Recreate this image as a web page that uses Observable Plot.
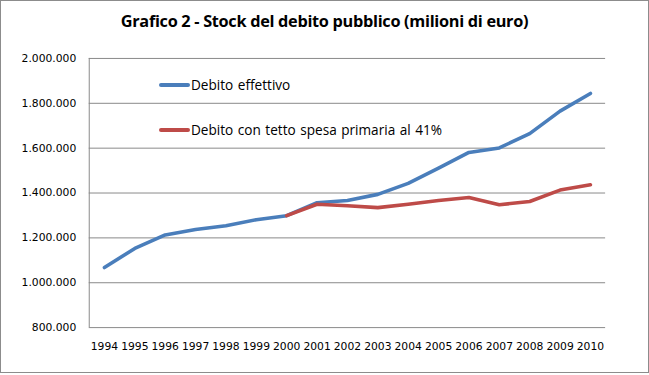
<!DOCTYPE html>
<html>
<head>
<meta charset="utf-8">
<script src="https://cdn.jsdelivr.net/npm/d3@7"></script>
<script src="https://cdn.jsdelivr.net/npm/@observablehq/plot@0.6"></script>
<style>
  html, body { margin: 0; padding: 0; background: #fff; }
  #wrap { position: relative; width: 647px; height: 371px; border: 1px solid #8c8c8c; background: #fff; overflow: hidden; }
  #title { position: absolute; left: 0; top: 9px; width: 647px; text-align: center; font-family: "Open Sans", sans-serif; font-weight: bold; font-size: 16.3px; color: #000; letter-spacing: -0.3px; }
  #chart { position: absolute; left: 0; top: 40px; }
  .leg { position: absolute; font-family: "Open Sans", sans-serif; font-size: 13.6px; color: #000; display: flex; align-items: center; letter-spacing: 0px; word-spacing: 1px; }
  .leg span.sw { display: inline-block; width: 31px; height: 4px; border-radius: 2px; margin-right: 1px; }
</style>
</head>
<body>
<div id="wrap">
  <div id="title">Grafico 2 - Stock del debito pubblico (milioni di euro)</div>
  <div id="chart"></div>
  <div id="legend"></div>
</div>
<script>
const years = [1994,1995,1996,1997,1998,1999,2000,2001,2002,2003,2004,2005,2006,2007,2008,2009,2010];
const debitoEffettivo = [1068000,1153000,1213000,1237000,1254000,1281000,1299000,1357000,1367000,1394000,1443000,1511000,1581000,1601000,1665000,1765000,1844000];
const debitoTetto = [null,null,null,null,null,null,1299000,1350000,1343000,1335000,1350000,1367000,1380000,1348000,1362000,1413000,1437000];
const seriesNames = ["Debito effettivo", "Debito con tetto spesa primaria al 41%"];
const seriesColors = ["#4a7ebb", "#be4b48"];
const yTicks = [800000,1000000,1200000,1400000,1600000,1800000,2000000];

const rows = [];
years.forEach((yr, i) => {
  rows.push({year: String(yr), value: debitoEffettivo[i], series: seriesNames[0]});
  if (debitoTetto[i] != null) rows.push({year: String(yr), value: debitoTetto[i], series: seriesNames[1]});
});

const it = d3.formatLocale({decimal: ",", thousands: ".", grouping: [3], currency: ["", " €"]});
const fmt = it.format(",.0f");

const chart = Plot.plot({
  width: 649,
  height: 335,
  marginTop: 17,
  marginBottom: 48,
  marginLeft: 88,
  marginRight: 43,
  style: {fontFamily: "'DejaVu Sans', sans-serif", fontSize: "10.8px", color: "#000", background: "transparent"},
  x: {type: "point", domain: years.map(String), padding: 0.5, round: false, label: null},
  y: {domain: [800000, 2000000], label: null},
  color: {domain: seriesNames, range: seriesColors},
  marks: [
    Plot.ruleY(yTicks, {stroke: "#8a8a8a", strokeWidth: 1}),
    Plot.axisY({ticks: yTicks, tickFormat: fmt, tickSize: 0, tickPadding: 13, label: null}),
    Plot.axisX({tickSize: 0, tickPadding: 15, label: null}),
    Plot.line(rows.filter(d => d.series === seriesNames[0]), {x: "year", y: "value", stroke: "series", strokeWidth: 3.6, strokeLinecap: "round", strokeLinejoin: "round"}),
    Plot.line(rows.filter(d => d.series === seriesNames[1]), {x: "year", y: "value", stroke: "series", strokeWidth: 3.6, strokeLinecap: "round", strokeLinejoin: "round"})
  ]
});
document.getElementById("chart").appendChild(chart);
// left axis line
const svg = d3.select(chart);
svg.append("line").attr("x1", 88.5).attr("x2", 88.5).attr("y1", 17).attr("y2", 335 - 48).attr("stroke", "#8a8a8a");

const legend = document.getElementById("legend");
const legTops = [74, 119];
seriesNames.forEach((name, i) => {
  const d = document.createElement("div");
  d.className = "leg";
  d.style.left = "158px";
  d.style.top = legTops[i] + "px";
  d.innerHTML = `<span class="sw" style="background:${seriesColors[i]}"></span>${name}`;
  legend.appendChild(d);
});
</script>
</body>
</html>
